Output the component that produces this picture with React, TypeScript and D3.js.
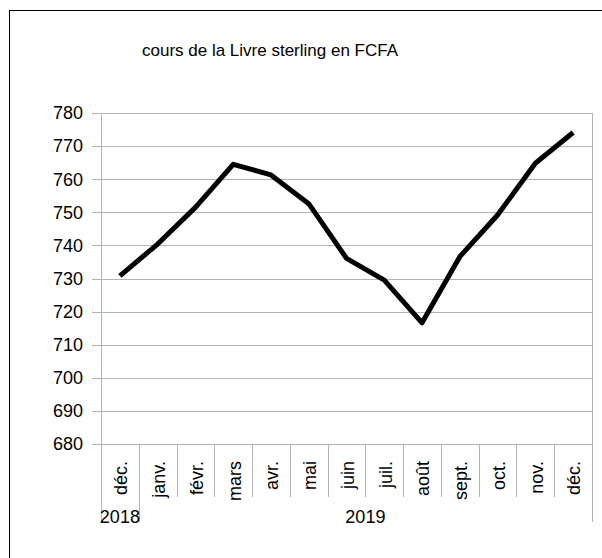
import React, { useEffect, useRef } from "react";
import * as d3 from "d3";

const months = ["déc.", "janv.", "févr.", "mars", "avr.", "mai", "juin", "juil.", "août", "sept.", "oct.", "nov.", "déc."];
const years = ["2018", "2019"];
const yearSpans = [1, 12];
const rates = [730.8, 740.4, 751.5, 764.5, 761.3, 752.6, 736.1, 729.5, 716.6, 736.6, 749.2, 764.8, 774.1];
const yTicks = [680, 690, 700, 710, 720, 730, 740, 750, 760, 770, 780];

const font = "'Liberation Sans', Arial, sans-serif";

const drawChart = (svgRef) => {
	const width = 602,
		height = 558;
	const left = 101,
		right = 592,
		top = 113,
		bottom = 444;

	const svg = d3.select(svgRef.current);
	svg.selectAll("*").remove();
	svg.attr("width", width).attr("height", height);

	svg
		.append("rect")
		.attr("x", 9.5)
		.attr("y", 10.5)
		.attr("width", 800)
		.attr("height", 800)
		.attr("fill", "white")
		.attr("stroke", "black");

	svg
		.append("text")
		.attr("x", 270)
		.attr("y", 56)
		.attr("text-anchor", "middle")
		.attr("font-family", font)
		.attr("font-size", 17)
		.text("cours de la Livre sterling en FCFA");

	const x = d3.scaleBand().domain(d3.range(months.length)).range([left, right]);
	const y = d3.scaleLinear().domain([680, 780]).range([bottom, top]);

	// grid lines + y ticks
	const grid = svg.append("g");
	grid
		.selectAll("line")
		.data(yTicks)
		.enter()
		.append("line")
		.attr("x1", left - 9)
		.attr("x2", right)
		.attr("y1", (d) => Math.round(y(d)) + 0.5)
		.attr("y2", (d) => Math.round(y(d)) + 0.5)
		.attr("stroke", "#b3b3b3");

	svg
		.append("g")
		.selectAll("text")
		.data(yTicks)
		.enter()
		.append("text")
		.attr("x", 83)
		.attr("y", (d) => y(d))
		.attr("dy", "0.35em")
		.attr("text-anchor", "end")
		.attr("font-family", font)
		.attr("font-size", 18)
		.text((d) => d);

	// category separators
	const groupEdges = [0];
	yearSpans.forEach((s, i) => groupEdges.push(groupEdges[i] + s));
	const seps = d3.range(months.length + 1);
	svg
		.append("g")
		.selectAll("line")
		.data(seps)
		.enter()
		.append("line")
		.attr("x1", (i) => Math.round(left + x.step() * i) + 0.5)
		.attr("x2", (i) => Math.round(left + x.step() * i) + 0.5)
		.attr("y1", (i) => (i === 0 || i === months.length ? top : bottom))
		.attr("y2", (i) => (groupEdges.includes(i) ? 522 : 497))
		.attr("stroke", "#b3b3b3");

	// month labels
	svg
		.append("g")
		.selectAll("text")
		.data(months)
		.enter()
		.append("text")
		.attr("transform", (d, i) => "translate(" + (x(i) + x.bandwidth() / 2 + 1) + ",461) rotate(-90)")
		.attr("dy", "0.35em")
		.attr("text-anchor", "end")
		.attr("font-family", font)
		.attr("font-size", 18)
		.text((d) => d);

	// year labels
	svg
		.append("g")
		.selectAll("text")
		.data(years)
		.enter()
		.append("text")
		.attr("x", (d, i) => left + x.step() * ((groupEdges[i] + groupEdges[i + 1]) / 2))
		.attr("y", 523)
		.attr("text-anchor", "middle")
		.attr("font-family", font)
		.attr("font-size", 18)
		.text((d) => d);

	const line = d3
		.line()
		.x((d, i) => x(i) + x.bandwidth() / 2)
		.y((d) => y(d));

	svg
		.append("path")
		.datum(rates)
		.attr("d", line)
		.attr("fill", "none")
		.attr("stroke", "black")
		.attr("stroke-width", 5)
		.attr("stroke-linejoin", "round");
};

const App = () => {
	const svg = useRef(null);

	useEffect(() => {
		drawChart(svg);
	}, []);

	return (
		<div style={{ position: "absolute", left: 0, top: 0 }}>
			<svg ref={svg} style={{ display: "block" }} />
		</div>
	);
};

export default App;
